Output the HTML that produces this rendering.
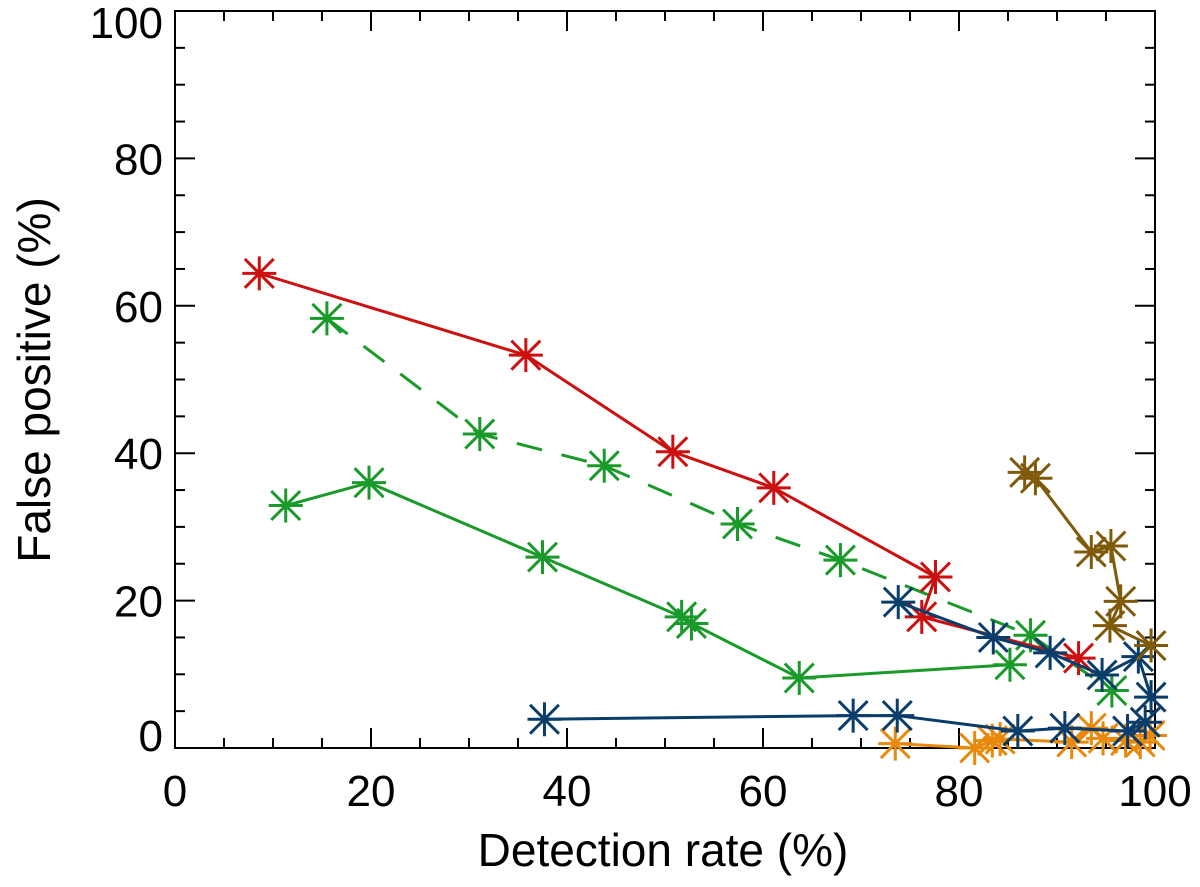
<!DOCTYPE html>
<html><head><meta charset="utf-8"><style>
body{margin:0;background:#fff;}
svg text{font-family:"Liberation Sans",sans-serif;fill:#000;}
</style></head><body>
<svg id="chart" width="1200" height="882">
<g id="axes"></g>
<g id="series"></g>
<text x="663" y="866" font-size="46" text-anchor="middle">Detection rate (%)</text>
<text transform="translate(50,380) rotate(-90)" font-size="46" text-anchor="middle">False positive (%)</text>
</svg>
<script>
const xTicks=[0,20,40,60,80,100];
const yTicks=[0,20,40,60,80,100];
const redX=[8.6,35.8,50.8,61.1,77.6,76.2,92.2];
const redY=[64.4,53.3,40.2,35.3,23.2,17.8,12.2];
const greenDashX=[15.5,31.1,43.8,57.4,67.9,87.3,95.6];
const greenDashY=[58.3,42.6,38.3,30.4,25.5,15.3,7.8];
const greenX=[11.3,19.8,37.5,51.7,52.7,63.7,85.2];
const greenY=[32.9,36.0,25.9,17.8,16.9,9.5,11.3];
const blueLowX=[37.7,69.2,73.7,86.0,90.8,97.2,99.0];
const blueLowY=[3.9,4.4,4.4,2.3,2.7,2.3,3.5];
const blueHiX=[73.8,83.5,89.3,94.6,98.3,99.6];
const blueHiY=[19.8,15.0,12.9,9.9,12.4,6.9];
const brownX=[86.7,87.8,93.5,95.5,96.5,95.4,99.6];
const brownY=[37.4,36.6,26.6,27.4,19.9,16.6,13.9];
const orangeX=[73.5,81.6,83.4,84.2,91.5,93.5,94.7,97.0,98.5,99.5];
const orangeY=[0.6,0.0,1.0,1.2,0.8,2.7,1.3,1.0,0.8,1.7];
const X0=175,X1=1155,Y0=748,Y1=11;
const sx=v=>X0+(X1-X0)*v/100, sy=v=>Y0-(Y0-Y1)*v/100;
const NS="http://www.w3.org/2000/svg";
const ax=document.getElementById('axes');
function mk(t,a,p){const e=document.createElementNS(NS,t);for(const k in a)e.setAttribute(k,a[k]);(p||ax).appendChild(e);return e;}
const frame=mk('rect',{x:X0,y:Y1,width:X1-X0,height:Y0-Y1,fill:'none',stroke:'#000','stroke-width':2});


for(let v=0;v<=100;v+=5){
 const L=v%20===0?20:10;
 mk('line',{x1:sx(v),x2:sx(v),y1:Y0,y2:Y0-L,stroke:'#000','stroke-width':2});
 mk('line',{x1:sx(v),x2:sx(v),y1:Y1,y2:Y1+L,stroke:'#000','stroke-width':2});
 mk('line',{y1:sy(v),y2:sy(v),x1:X0,x2:X0+L,stroke:'#000','stroke-width':2});
 mk('line',{y1:sy(v),y2:sy(v),x1:X1,x2:X1-L,stroke:'#000','stroke-width':2});
}
xTicks.forEach(v=>{const t=mk('text',{x:sx(v),y:Y0+58,'font-size':44,'text-anchor':'middle'});t.textContent=v;
 
 });
yTicks.forEach(v=>{
 const off=v===100?27:(v===0?3:16);
 const t=mk('text',{x:X0-12,y:sy(v)+off,'font-size':44,'text-anchor':'end'});t.textContent=v;
 
 });
const sg=document.getElementById('series');
function series(name,xs,ys,col,dash){
 const g=mk('g',{},sg);
 
 
 const pts=xs.map((x,i)=>sx(x)+','+sy(ys[i])).join(' ');
 const pl=mk('polyline',{points:pts,fill:'none',stroke:col,'stroke-width':3,'stroke-dasharray':dash?'26,20':'none'},g);
 
 
 xs.forEach((x,i)=>{
  const cx=sx(x),cy=sy(ys[i]),r=17,d=r*0.85;
  const m=mk('path',{d:`M${cx-r},${cy}H${cx+r}M${cx},${cy-r}V${cy+r}M${cx-d},${cy-d}L${cx+d},${cy+d}M${cx-d},${cy+d}L${cx+d},${cy-d}`,stroke:col,'stroke-width':3,fill:'none'},g);
  
  
 });
}
series('orange-series',orangeX,orangeY,'#e8890c',false);
series('blue-low-series',blueLowX,blueLowY,'#0b3d6b',false);
series('green-solid-series',greenX,greenY,'#1a9a2a',false);
series('green-dashed-series',greenDashX,greenDashY,'#1a9a2a',true);
series('red-series',redX,redY,'#cc1010',false);
series('blue-high-series',blueHiX,blueHiY,'#0b3d6b',false);
series('brown-series',brownX,brownY,'#7f5a0a',false);
</script>
</body></html>
